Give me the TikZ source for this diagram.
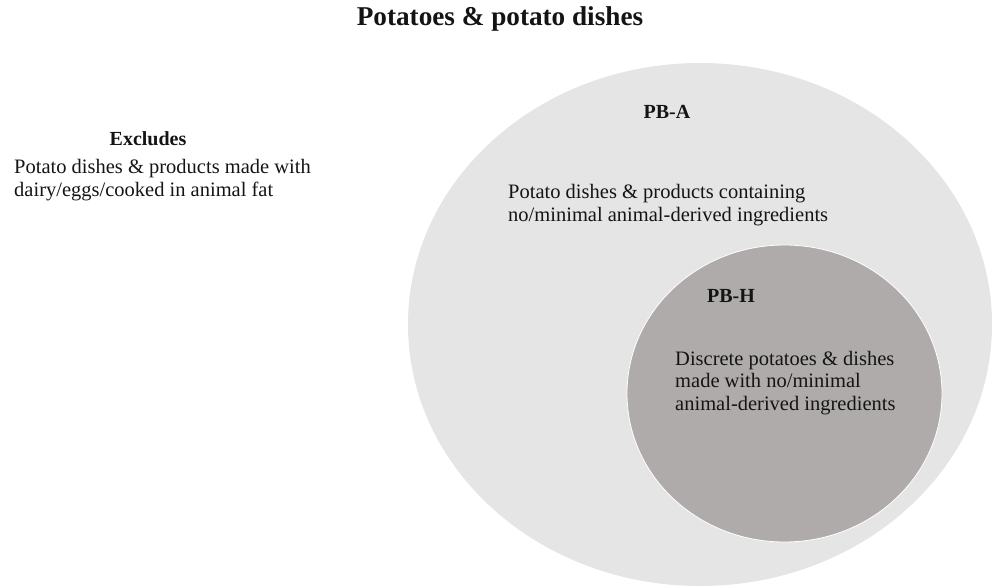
\documentclass[tikz,border=0pt]{standalone}
\usepackage{fontspec}
\setmainfont{Liberation Serif}
\usetikzlibrary{shapes.geometric}
\definecolor{outerfill}{RGB}{229,229,229}
\definecolor{innerfill}{RGB}{175,171,171}
\definecolor{ink}{RGB}{20,20,20}
\tikzset{
  bodytext/.style={inner sep=0pt, anchor=west, align=left, text=ink,
    font=\fontsize{20.5}{22.3}\selectfont},
  headtext/.style={inner sep=0pt, text=ink,
    font=\fontsize{20}{22}\selectfont\bfseries},
  setshape/.style={ellipse, inner sep=0pt}
}
\begin{document}
\begin{tikzpicture}[x=1pt,y=-1pt]
  \useasboundingbox (0,0) rectangle (992,588);
  % title
  \node[headtext, font=\fontsize{27.2}{30}\selectfont\bfseries] (title) at (500,19) {Potatoes \& potato dishes};
  % excluded items
  \node[headtext] (exhead) at (148,139) {Excludes};
  \node[bodytext] (exbody) at (14,180) {Potato dishes \& products made with\\dairy/eggs/cooked in animal fat};
  % nested sets
  \node[setshape, fill=outerfill, minimum width=584pt, minimum height=523pt] (pba) at (700,324.5) {};
  \node[setshape, fill=innerfill, draw=white, line width=0.8pt, minimum width=315pt, minimum height=297pt] (pbh) at (784.5,393.5) {};
  \node[headtext] (pbahead) at (667,112) {PB-A};
  \node[bodytext] (pbabody) at (508,205) {Potato dishes \& products containing\\no/minimal animal-derived ingredients};
  \node[headtext] (pbhhead) at (731,296) {PB-H};
  \node[bodytext] (pbhbody) at (675,383) {Discrete potatoes \& dishes\\made with no/minimal\\animal-derived ingredients};
\end{tikzpicture}
\end{document}
